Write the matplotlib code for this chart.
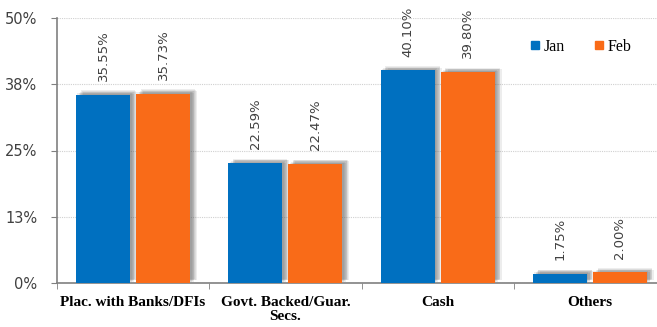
import numpy as np
import matplotlib
matplotlib.use('Agg')
import matplotlib.pyplot as plt
import matplotlib.patheffects as pe
from matplotlib.lines import Line2D

categories = ['Plac. with Banks/DFIs', 'Govt. Backed/Guar.\nSecs.', 'Cash', 'Others']
jan = [35.55, 22.59, 40.10, 1.75]
feb = [35.73, 22.47, 39.80, 2.00]
series_names = ['Jan', 'Feb']
ytick_vals = [0, 0.125, 0.25, 0.375, 0.5]
ytick_labels = ['0%', '13%', '25%', '38%', '50%']

blue = '#0070C0'
orange = '#F96B18'
txt = '#404040'

fig = plt.figure(figsize=(6.57, 3.27), dpi=100)
ax = fig.add_axes([57/657, 1 - 283/327, 609/657, 265/327])

# soft drop shadow: stack of faint offset copies
shadow = [pe.SimplePatchShadow(offset=(dx, dy), shadow_rgbFace='#505050', alpha=0.1)
          for dx, dy in [(1, 1), (2, 1.5), (3, 2), (4, 2.5), (2.5, 0.5), (3.5, 3), (5, 2)]]
shadow.append(pe.Normal())

x = np.arange(len(categories))
off = 0.197
w = 0.355
b1 = ax.bar(x - off, np.array(jan) / 100, w, color=blue, label=series_names[0], zorder=3,
            path_effects=shadow)
b2 = ax.bar(x + off, np.array(feb) / 100, w, color=orange, label=series_names[1], zorder=3,
            path_effects=shadow)

for bars, vals in ((b1, jan), (b2, feb)):
    for r, v in zip(bars, vals):
        ax.annotate(f'{v:.2f}%', (r.get_x() + r.get_width() / 2, r.get_height()),
                    xytext=(0, 10), textcoords='offset points', rotation=90,
                    ha='center', va='bottom', fontsize=9.5, color=txt, zorder=4)

ax.set_xlim(-0.5, len(categories) - 0.5)
ax.set_ylim(0, 0.5)
ax.set_yticks(ytick_vals)
ax.set_yticklabels(ytick_labels)
ax.tick_params(axis='y', length=4, color='#808080', labelsize=10.5, labelcolor=txt, pad=10)
ax.yaxis.grid(True, linestyle=(0, (1, 1)), color='#d0d0d0', linewidth=0.8, zorder=0)

ax.set_xticks(x)
ax.set_xticklabels(categories, fontfamily='Liberation Serif', fontweight='bold',
                   fontsize=11, color='black')
ax.set_xticks(np.arange(len(categories) + 1) - 0.5, minor=True)
ax.tick_params(axis='x', which='major', length=0, pad=9)
ax.tick_params(axis='x', which='minor', length=4, color='#808080')

for s in ['top', 'right']:
    ax.spines[s].set_visible(False)
for s in ['left', 'bottom']:
    ax.spines[s].set_color('#808080')
    ax.spines[s].set_linewidth(1.2)

handles = [Line2D([], [], marker='s', linestyle='', color=c, markersize=6)
           for c in (blue, orange)]
ax.legend(handles, series_names, loc='center', bbox_to_anchor=((579 - 57) / 609, (283 - 47) / 265),
          ncol=2, frameon=False, handletextpad=0.0, columnspacing=1.6, handlelength=1.1,
          prop={'family': 'Liberation Serif', 'size': 11.5})

fig.savefig('out.png', dpi=100)
